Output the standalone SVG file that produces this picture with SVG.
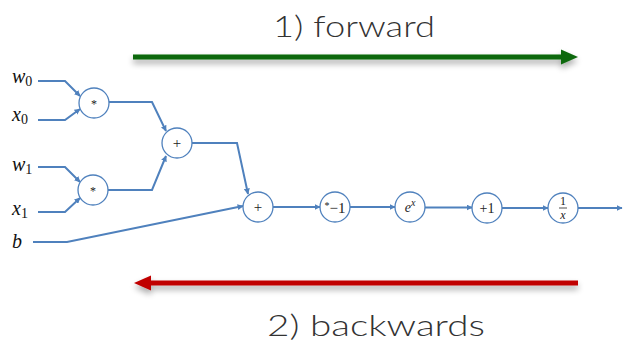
<svg xmlns="http://www.w3.org/2000/svg" width="623" height="343" viewBox="0 0 623 343">
  <defs>
    <marker id="tip" viewBox="0 0 10 10" refX="9" refY="5" markerWidth="6" markerHeight="6" markerUnits="userSpaceOnUse" orient="auto">
      <path d="M0,0 L10,5 L0,10 z" fill="#4f81bd"/>
    </marker>
    <filter id="shadow" x="-5%" y="-100%" width="110%" height="400%">
      <feGaussianBlur in="SourceAlpha" stdDeviation="3"/>
      <feOffset dx="0" dy="4" result="blur"/>
      <feComponentTransfer><feFuncA type="linear" slope="0.35"/></feComponentTransfer>
      <feMerge><feMergeNode/><feMergeNode in="SourceGraphic"/></feMerge>
    </filter>
    <style>
      .node circle { fill: #ffffff; stroke: #4f81bd; stroke-width: 1.3; }
      .op { font-family: "Liberation Serif", "DejaVu Serif", serif; fill: #222; text-anchor: middle; }
      .var { font-family: "Liberation Serif", "DejaVu Serif", serif; font-style: italic; fill: #111; font-size: 20px; }
      .sub { font-style: normal; font-size: 14px; }
      .edges path { fill: none; stroke: #4f81bd; stroke-width: 2; marker-end: url(#tip); }
      .title { font-family: Lato, "Open Sans", "Liberation Sans", sans-serif; font-weight: 300; font-size: 30px; fill: #333; }
    </style>
  </defs>

  <rect width="623" height="343" fill="#ffffff"/>

  <!-- pass direction arrows -->
  <g id="forward" filter="url(#shadow)">
    <line x1="133" y1="57" x2="563" y2="57" stroke="#0b680b" stroke-width="5"/>
    <path d="M561,49.5 L578,57 L561,64.5 z" fill="#0b680b"/>
  </g>
  <text class="title" x="273" y="37" textLength="162" lengthAdjust="spacingAndGlyphs">1) forward</text>

  <g id="backward" filter="url(#shadow)">
    <line x1="149" y1="283" x2="578" y2="283" stroke="#c00000" stroke-width="5"/>
    <path d="M151,275.5 L134,283 L151,290.5 z" fill="#c00000"/>
  </g>
  <text class="title" x="267" y="336" textLength="218" lengthAdjust="spacingAndGlyphs">2) backwards</text>

  <!-- inputs -->
  <g id="in-w0"><text class="var" x="12" y="83">w<tspan class="sub" dy="3">0</tspan></text></g>
  <g id="in-x0"><text class="var" x="12" y="121">x<tspan class="sub" dy="3">0</tspan></text></g>
  <g id="in-w1"><text class="var" x="12" y="171">w<tspan class="sub" dy="3">1</tspan></text></g>
  <g id="in-x1"><text class="var" x="12" y="215">x<tspan class="sub" dy="3">1</tspan></text></g>
  <g id="in-b"><text class="var" x="12" y="248">b</text></g>

  <!-- connectors -->
  <g class="edges">
    <path d="M38,81 H65 L80,96"/>
    <path d="M38,120 H65 L80,109"/>
    <path d="M38,167 H65 L80,182"/>
    <path d="M38,212 H65 L80,198"/>
    <path d="M109,102 H152 L166,131"/>
    <path d="M108,190 H152 L166,156"/>
    <path d="M192,143 H237 L248,194"/>
    <path d="M33,242 H67 L243,206"/>
    <path d="M273,207 H320"/>
    <path d="M350,207 H395"/>
    <path d="M425,207.5 H472"/>
    <path d="M502,208 H548"/>
    <path d="M578,208 H622"/>
  </g>

  <!-- operation nodes -->
  <g id="mul0" class="node"><circle cx="94" cy="103" r="15"/><text class="op" x="94" y="108" font-size="12">*</text></g>
  <g id="mul1" class="node"><circle cx="93" cy="190" r="15"/><text class="op" x="93" y="195" font-size="12">*</text></g>
  <g id="add0" class="node"><circle cx="177" cy="143" r="15"/><text class="op" x="177" y="148" font-size="15">+</text></g>
  <g id="add1" class="node"><circle cx="258" cy="207" r="15"/><text class="op" x="258" y="212" font-size="15">+</text></g>
  <g id="neg" class="node"><circle cx="335" cy="207" r="15"/><text class="op" x="335" y="212.5" font-size="15"><tspan font-size="10" dy="-4">*</tspan><tspan dy="4">−1</tspan></text></g>
  <g id="exp" class="node"><circle cx="410" cy="207" r="15"/><text class="op" x="410" y="212" font-size="14" font-style="italic">e<tspan font-size="10" dy="-6">x</tspan></text></g>
  <g id="inc" class="node"><circle cx="487" cy="208" r="15"/><text class="op" x="487" y="213" font-size="14">+1</text></g>
  <g id="inv" class="node"><circle cx="563" cy="208" r="15"/>
    <text class="op" x="563" y="205" font-size="12">1</text>
    <line x1="559" y1="208" x2="567" y2="208" stroke="#222" stroke-width="0.8"/>
    <text class="op" x="563" y="219" font-size="12" font-style="italic">x</text>
  </g>
</svg>
